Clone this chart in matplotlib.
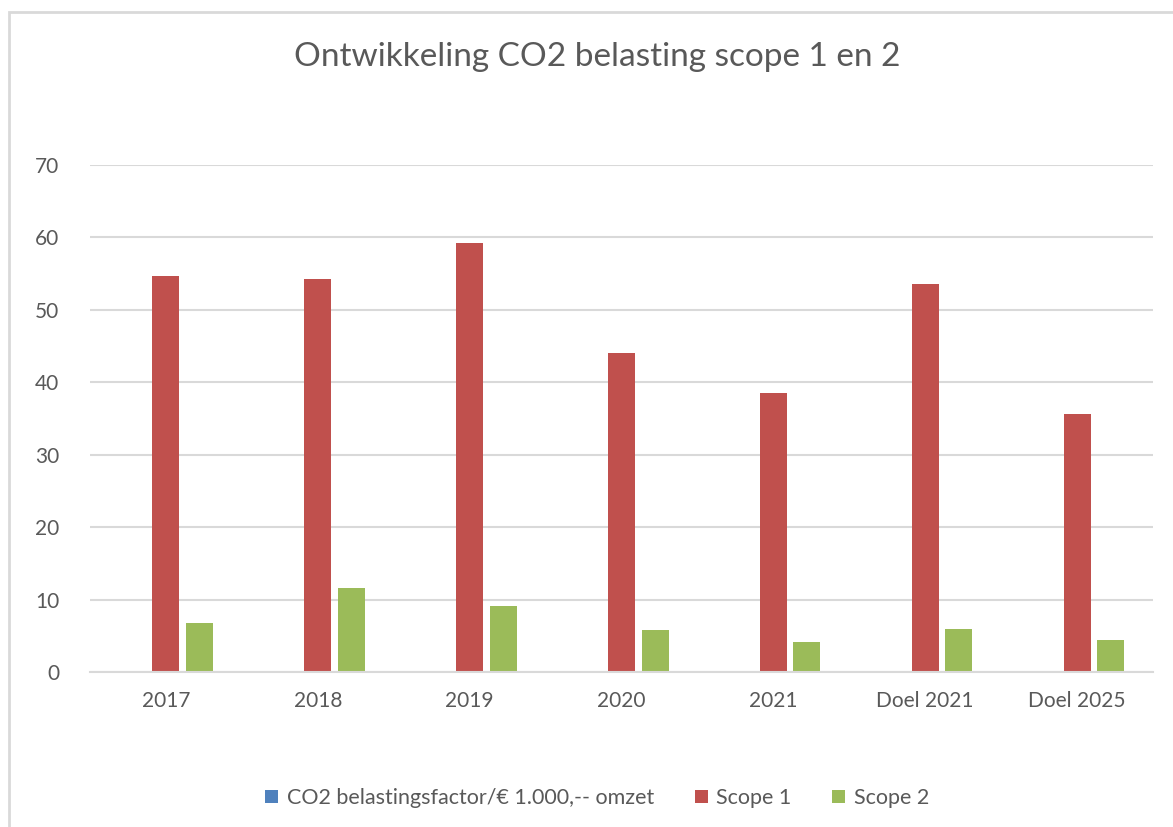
import matplotlib
matplotlib.use('Agg')
import matplotlib.pyplot as plt
from matplotlib.patches import Rectangle
import numpy as np

categories = ['2017', '2018', '2019', '2020', '2021', 'Doel 2021', 'Doel 2025']
co2_factor = [0, 0, 0, 0, 0, 0, 0]
scope1 = [54.7, 54.2, 59.2, 44.0, 38.5, 53.6, 35.6]
scope2 = [6.7, 11.6, 9.15, 5.75, 4.1, 5.9, 4.4]

txt = '#595959'
grid = '#d9d9d9'
plt.rcParams['font.family'] = ['Lato', 'DejaVu Sans']

fig = plt.figure(figsize=(11.73, 8.27), dpi=100)
fig.patches.append(Rectangle((9/1173, -0.1), 1.2, 1.1 - 12/827, transform=fig.transFigure,
                             fill=False, edgecolor=grid, linewidth=2))
ax = fig.add_axes([90/1173, 155/827, 1063/1173, 507/827])

x = np.arange(len(categories))
off = 0.221
w = 0.178
ax.bar(x - off, co2_factor, w, color='#4f81bd', label='CO2 belastingsfactor/€ 1.000,-- omzet')
ax.bar(x, scope1, w, color='#c0504d', label='Scope 1')
ax.bar(x + off, scope2, w, color='#9bbb59', label='Scope 2')

ax.set_xlim(-0.5, len(categories) - 0.5)
ax.set_ylim(0, 70)
ax.set_yticks(range(0, 71, 10))
ax.set_xticks(x)
ax.set_xticklabels(categories)
ax.yaxis.grid(True, color=grid, linewidth=1.5)
ax.set_axisbelow(True)
for s in ['top', 'right', 'left']:
    ax.spines[s].set_visible(False)
ax.spines['bottom'].set_color(grid)
ax.spines['bottom'].set_linewidth(1.5)
ax.tick_params(axis='both', length=0, labelsize=15, colors=txt)
ax.tick_params(axis='x', pad=14)
ax.tick_params(axis='y', pad=22)

fig.text(597/1173, 1 - 57/827, 'Ontwikkeling CO2 belasting scope 1 en 2', ha='center', va='center',
         fontsize=24, color=txt)

fig.legend(loc='center', bbox_to_anchor=(0.509, 1 - 798/827), ncol=3, frameon=False,
           fontsize=15.5, labelcolor=txt, handlelength=0.6, handleheight=0.6,
           handletextpad=0.4, columnspacing=1.9)

plt.savefig('out.png', dpi=100)
